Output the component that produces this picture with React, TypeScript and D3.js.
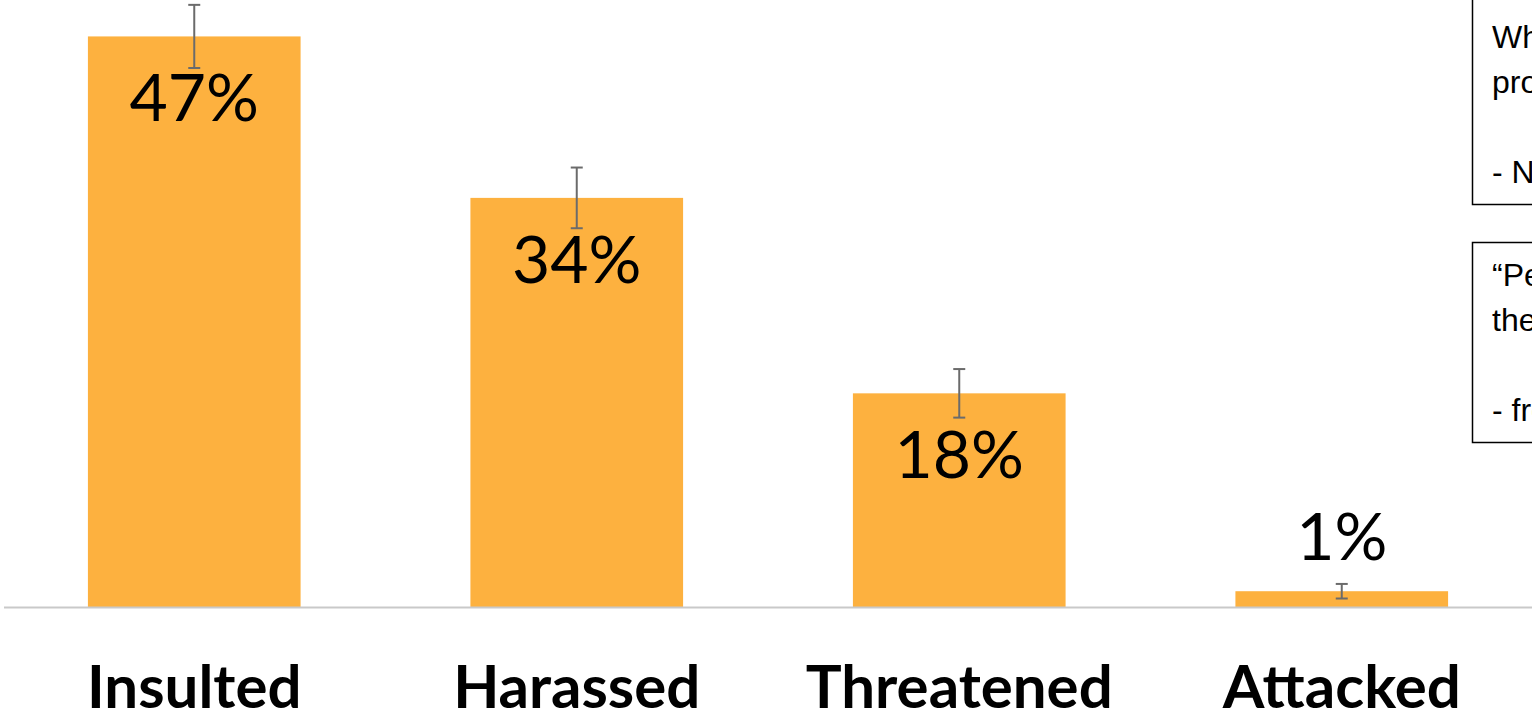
import * as d3 from "d3";

const WIDTH = 1532;
const HEIGHT = 716;

const categories = ["Insulted", "Harassed", "Threatened", "Attacked"];
const percents = [47, 33.7, 17.6, 1.3];
const errors = [2.6, 2.5, 2.0, 0.6];
const valueLabels = ["47%", "34%", "18%", "1%"];

const quoteBox1 = [
  "When asked about the problem, the answer was",
  "proportionally the same across all groups",
  "",
  "- N. respondents, 2019 survey",
];
const quoteBox2 = [
  "“People should not have to put up with",
  "these experiences at work”",
  "",
  "- from survey comments",
];

const BAR_COLOR = "#fdb13f";
const BASELINE = 607;

export default function App() {
  const x = d3
    .scaleBand<string>()
    .domain(categories)
    .range([3, 1533])
    .paddingInner(0.444)
    .paddingOuter(0.222);
  const y = d3.scaleLinear().domain([0, 50]).range([BASELINE, 0]);
  const bw = x.bandwidth();

  const boxes = [
    { lines: quoteBox1, top: -40, bottom: 204, firstBaseline: 48 },
    { lines: quoteBox2, top: 242, bottom: 442, firstBaseline: 286 },
  ];

  return (
    <svg
      width={WIDTH}
      height={HEIGHT}
      style={{ position: "absolute", left: 0, top: 0, background: "#fff" }}
    >
      {/* bars */}
      <g>
        {categories.map((c, i) => (
          <rect
            key={c}
            x={x(c)}
            y={y(percents[i])}
            width={bw}
            height={BASELINE - y(percents[i])}
            fill={BAR_COLOR}
          />
        ))}
      </g>

      {/* baseline */}
      <line x1={4} x2={WIDTH} y1={BASELINE + 0.5} y2={BASELINE + 0.5} stroke="#c9c9c9" strokeWidth={2} />

      {/* error bars */}
      <g stroke="#6b6b6b" strokeWidth={2}>
        {categories.map((c, i) => {
          const cx = (x(c) as number) + bw / 2;
          const hi = y(percents[i] + errors[i]);
          const lo = y(percents[i] - errors[i]);
          return (
            <g key={c}>
              <line x1={cx} x2={cx} y1={hi} y2={lo} />
              <line x1={cx - 6} x2={cx + 6} y1={hi} y2={hi} />
              <line x1={cx - 6} x2={cx + 6} y1={lo} y2={lo} />
            </g>
          );
        })}
      </g>

      {/* value labels */}
      <g fontFamily="Lato, 'Open Sans', sans-serif" fontSize={66} textAnchor="middle" fill="#000">
        {categories.map((c, i) => {
          const cx = (x(c) as number) + bw / 2;
          const top = y(percents[i]);
          const inside = BASELINE - top > 100;
          return (
            <text key={c} x={cx} y={inside ? top + 85 : top - 31}>
              {valueLabels[i]}
            </text>
          );
        })}
      </g>

      {/* category labels */}
      <g fontFamily="Lato, 'Open Sans', sans-serif" fontSize={60} fontWeight="bold" textAnchor="middle" fill="#000">
        {categories.map((c) => (
          <text key={c} x={(x(c) as number) + bw / 2} y={708}>
            {c}
          </text>
        ))}
      </g>

      {/* quote boxes */}
      {boxes.map((b, k) => (
        <g key={k}>
          <rect
            x={1472.5}
            y={b.top + 0.5}
            width={400}
            height={b.bottom - b.top}
            fill="#fff"
            stroke="#000"
            strokeWidth={1.5}
          />
          {b.lines.map((l, j) => (
            <text
              key={j}
              x={1492}
              y={b.firstBaseline + j * 45}
              fontFamily="'Liberation Sans', Arial, sans-serif"
              fontSize={32}
              fill="#000"
            >
              {l}
            </text>
          ))}
        </g>
      ))}
    </svg>
  );
}
